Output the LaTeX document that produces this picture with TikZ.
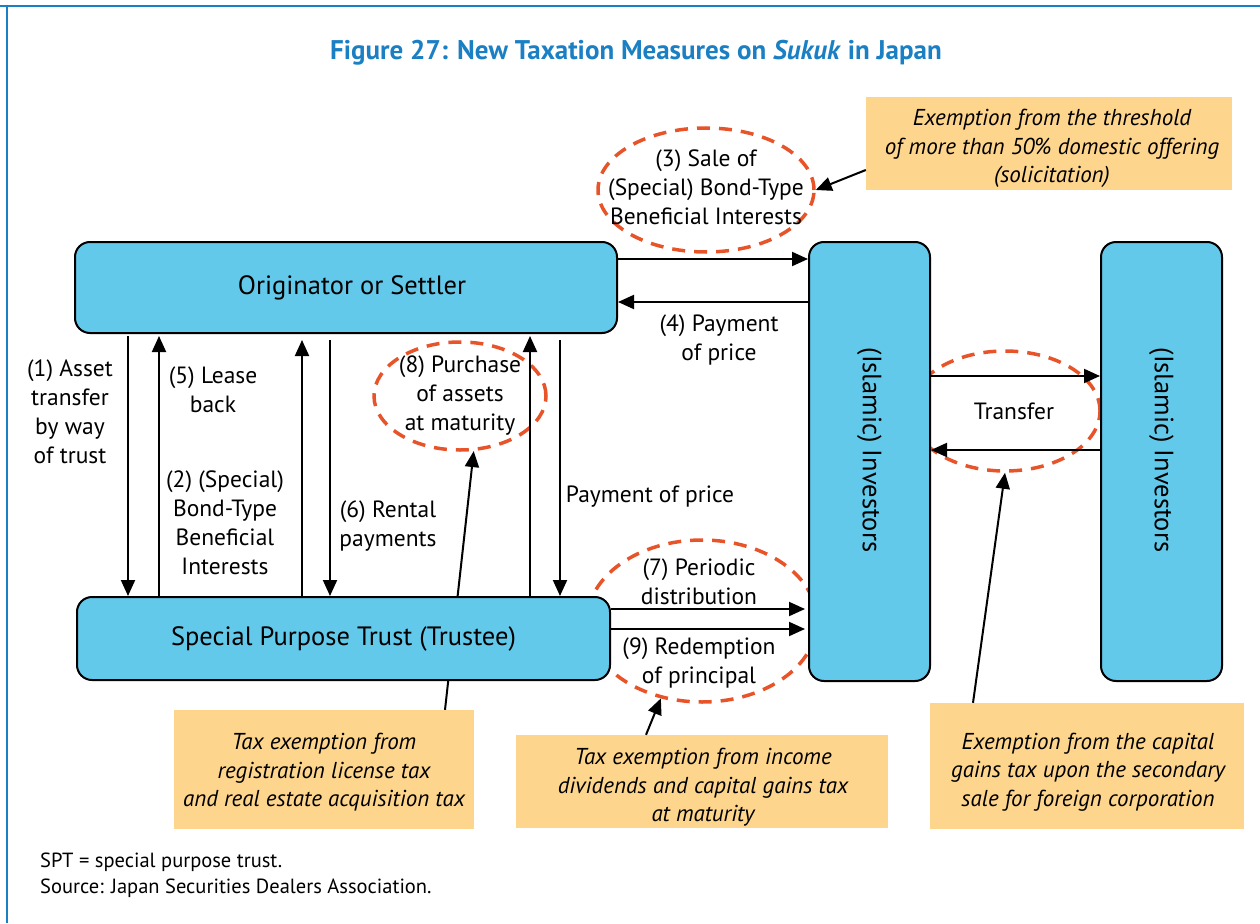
\documentclass[tikz,border=0pt]{standalone}
\usepackage{fontspec}
\setmainfont{PT Sans}
\usetikzlibrary{arrows.meta,shapes.geometric,calc}
\definecolor{boxblue}{HTML}{63C9EA}
\definecolor{noteyellow}{HTML}{FDD58D}
\definecolor{ringorange}{HTML}{E8542A}
\definecolor{titleblue}{HTML}{1B80C3}
\tikzset{
  blk/.style={draw=black, line width=2pt, fill=boxblue, rounded corners=15pt, inner sep=0pt},
  note/.style={fill=noteyellow, inner sep=0pt},
  notetxt/.style={inner sep=0pt, align=center, font=\fontsize{23}{28.5}\selectfont\itshape},
  ring/.style={draw=ringorange, ellipse, dash pattern=on 13pt off 9pt, line width=3.5pt, inner sep=0pt},
  arr/.style={-{Triangle[length=16pt,width=14pt]}, line width=2pt},
  lbl/.style={align=center, inner sep=0pt, font=\fontsize{23.5}{29}\selectfont},
  boxtxt/.style={inner sep=0pt, font=\fontsize{26.5}{30}\selectfont},
  frameline/.style={draw=titleblue, line width=2pt}
}
\begin{document}
\begin{tikzpicture}[x=1pt,y=-1pt]
\useasboundingbox (0,0) rectangle (1260,923);
% frame
\draw[frameline] (0,6) -- (1260,6);
\draw[frameline] (7,6) -- (7,923);
% title
\node[inner sep=0pt, text=titleblue, font=\fontsize{27}{32}\selectfont\bfseries] (title) at (636,53)
  {Figure 27: New Taxation Measures on \textit{Sukuk} in Japan};

% helper coordinates
\coordinate (y170) at (0,170);
\coordinate (y259) at (0,259);
\coordinate (y302) at (0,302);
\coordinate (y376) at (0,376);
\coordinate (y450) at (0,450);
\coordinate (y609) at (0,609);
\coordinate (y629) at (0,629);
\coordinate (x128) at (128,0);
\coordinate (x159) at (159,0);
\coordinate (x302) at (302,0);
\coordinate (x330) at (330,0);
\coordinate (x530) at (530,0);
\coordinate (x560) at (560,0);

% notes
\node[note, minimum width=366, minimum height=93] (note3) at (1049,143.5) {};
\node[notetxt] (note3t) at (1052,148.5)
  {Exemption from the threshold\\of more than 50\% domestic offering\\(solicitation)};
\node[note, minimum width=300, minimum height=119] (note1) at (324,769.5) {};
\node[notetxt] (note1t) at (324,772.5)
  {Tax exemption from\\registration license tax\\and real estate acquisition tax};
\node[note, minimum width=372, minimum height=93] (note2) at (702,781.5) {};
\node[notetxt] (note2t) at (703,787.5)
  {Tax exemption from income\\dividends and capital gains tax\\at maturity};
\node[note, minimum width=314, minimum height=126] (note4) at (1087,766) {};
\node[notetxt] (note4t) at (1088,772)
  {Exemption from the capital\\gains tax upon the secondary\\sale for foreign corporation};

% ellipses (rings)
\node[ring, minimum width=216, minimum height=124] (e3) at (706,190) {};
\node[ring, minimum width=172, minimum height=108] (e8) at (460,396) {};
\node[ring, minimum width=230, minimum height=162] (e79) at (702,621) {};
\node[ring, minimum width=190, minimum height=120] (etr) at (1005,411) {};

% pointer line behind SPT box
\draw[arr] ([xshift=121pt]note1.north) -- (e8.-76);

% main boxes
\node[blk, minimum width=542, minimum height=91] (orig) at (346,287.5) {};
\node[boxtxt] at ([xshift=6pt]orig.center) {Originator or Settler};
\node[blk, minimum width=533, minimum height=83] (spt) at (343.5,638.5) {};
\node[boxtxt] at (spt.center) {Special Purpose Trust (Trustee)};
\node[blk, minimum width=121, minimum height=439] (inv1) at (869.5,461.5) {};
\node[blk, minimum width=121, minimum height=439] (inv2) at (1161.5,461.5) {};
\node[boxtxt, rotate=-90] at (869.5,450) {(Islamic) Investors};
\node[boxtxt, rotate=-90] at (1161.5,450) {(Islamic) Investors};

% connectors
\draw[arr] (note3.west |- y170) -- (e3.east);
\draw[arr] ([xshift=-56pt]note2.north) -- (e79.-118);
\draw[arr] ([xshift=-114pt]note4.north) -- (etr.south);

\draw[arr] (orig.east |- y259) -- (inv1.west |- y259);
\draw[arr] (inv1.west |- y302) -- (orig.east |- y302);
\draw[arr] (inv1.east |- y376) -- (inv2.west |- y376);
\draw[arr] (inv2.west |- y450) -- (inv1.east |- y450);
\draw[arr, shorten >=3pt] (spt.east |- y609) -- (inv1.west |- y609);
\draw[arr, shorten >=3pt] (spt.east |- y629) -- (inv1.west |- y629);

\draw[arr, shorten <=2pt] (x128 |- orig.south) -- (x128 |- spt.north);
\draw[arr, shorten >=2pt] (x159 |- spt.north) -- (x159 |- orig.south);
\draw[arr, shorten >=6pt] (x302 |- spt.north) -- (x302 |- orig.south);
\draw[arr, shorten <=6pt] (x330 |- orig.south) -- (x330 |- spt.north);
\draw[arr, shorten >=2pt] (x530 |- spt.north) -- (x530 |- orig.south);
\draw[arr, shorten <=6pt] (x560 |- orig.south) -- (x560 |- spt.north);

% labels
\node[lbl] (l3) at (706,187) {(3) Sale of\\(Special) Bond-Type\\Beneficial Interests};
\node[lbl] (l4) at (719,340) {(4) Payment\\of price};
\node[lbl] (l1) at (70,411.5) {(1) Asset\\transfer\\by way\\of trust};
\node[lbl] (l5) at (213,390) {(5) Lease\\back};
\node[lbl] (l2) at (225,522.5) {(2) (Special)\\Bond-Type\\Beneficial\\Interests};
\node[lbl] (l6) at (388,526.5) {(6) Rental\\payments};
\node[lbl] (l8) at (460,396) {(8) Purchase\\of assets\\at maturity};
\node[lbl] (lp) at (650,497) {Payment of price};
\node[lbl] (l7) at (699,581.5) {(7) Periodic\\distribution};
\node[lbl] (l9) at (699,662.5) {(9) Redemption\\of principal};
\node[lbl] (lt) at (1014,411) {Transfer};

% footnote
\node[anchor=west, align=left, inner sep=0pt, font=\fontsize{20.5}{26}\selectfont] (foot) at (40,875)
  {SPT = special purpose trust.\\Source: Japan Securities Dealers Association.};
\end{tikzpicture}
\end{document}
